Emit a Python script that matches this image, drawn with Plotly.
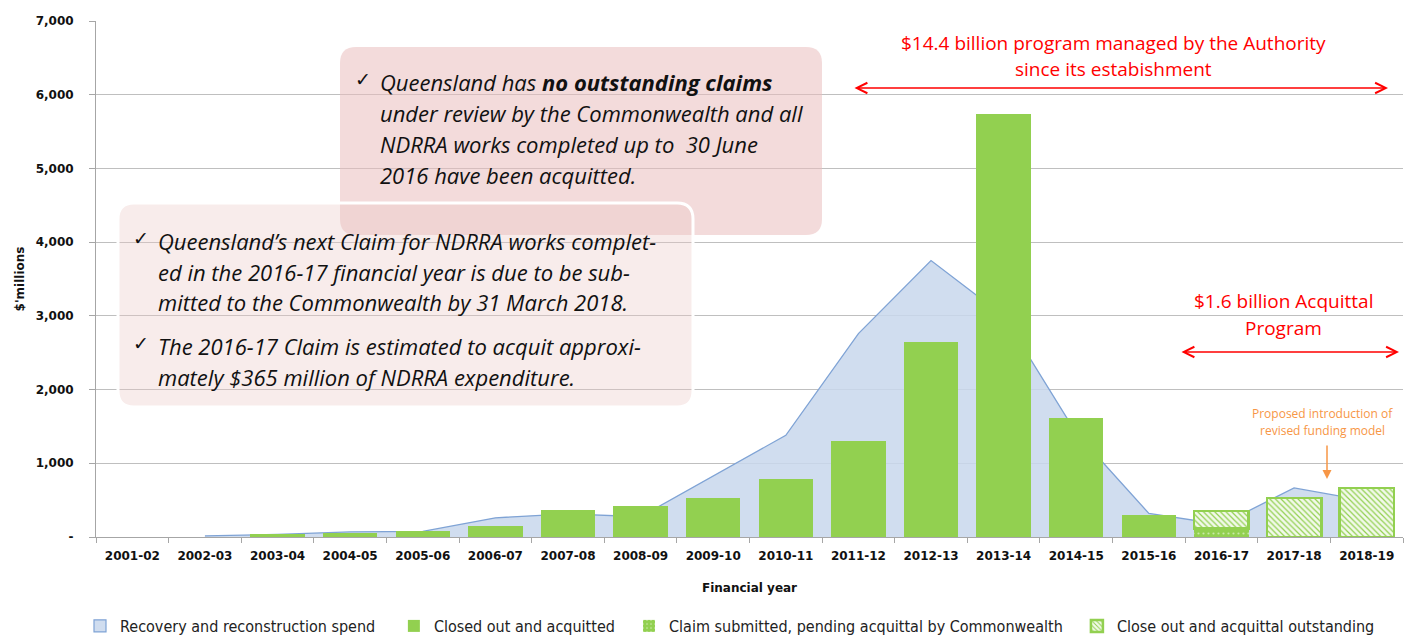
import plotly.graph_objects as go

# ---------------- data ----------------
years = ["2001-02", "2002-03", "2003-04", "2004-05", "2005-06", "2006-07", "2007-08",
         "2008-09", "2009-10", "2010-11", "2011-12", "2012-13", "2013-14", "2014-15",
         "2015-16", "2016-17", "2017-18", "2018-19"]
recovery_spend = [None, 15, 35, 70, 75, 260, 315, 275, 825, 1380, 2760, 3750, 3000,
                  1410, 320, 170, 665, 490]
closed_acquitted = [None, None, 35, 60, 85, 150, 360, 420, 535, 785, 1300, 2650, 5740,
                    1615, 300, None, None, None]
claim_pending = [None] * 15 + [113, None, None]
outstanding = [None] * 15 + [237, 530, 665]

y_tickvals = [0, 1000, 2000, 3000, 4000, 5000, 6000, 7000]
y_ticktext = ["-", "1,000", "2,000", "3,000", "4,000", "5,000", "6,000", "7,000"]

series_names = ["Recovery and reconstruction spend", "Closed out and acquitted",
                "Claim submitted, pending acquittal by Commonwealth",
                "Close out and acquittal outstanding"]

box1_lines = ["Queensland has <b>no outstanding claims</b>",
              "under review by the Commonwealth and all",
              "NDRRA works completed up to  30 June",
              "2016 have been acquitted."]
box2_lines = ["Queensland\u2019s next Claim for NDRRA works complet-",
              "ed in the 2016-17 financial year is due to be sub-",
              "mitted to the Commonwealth by 31 March 2018.",
              "The 2016-17 Claim is estimated to acquit approxi-",
              "mately $365 million of NDRRA expenditure."]

# ---------------- geometry helpers (pixel -> paper) ----------------
W, H = 1410, 637
ML, MR, MT, MB = 96, 7, 21, 100
PW, PH = W - ML - MR, H - MT - MB


def px(x):
    return (x - ML) / PW


def py(y):
    return (H - MB - y) / PH


def rounded_rect(x0, y0, x1, y1, r):
    def P(x, y):
        return f"{px(x):.5f},{py(y):.5f}"
    return (f"M {P(x0 + r, y0)} L {P(x1 - r, y0)} Q {P(x1, y0)} {P(x1, y0 + r)} "
            f"L {P(x1, y1 - r)} Q {P(x1, y1)} {P(x1 - r, y1)} "
            f"L {P(x0 + r, y1)} Q {P(x0, y1)} {P(x0, y1 - r)} "
            f"L {P(x0, y0 + r)} Q {P(x0, y0)} {P(x0 + r, y0)} Z")


GREEN = "#92D050"
AREA_FILL = "rgba(200,215,236,0.85)"
AREA_LINE = "#7FA3D5"
nb = "\u00a0"

fig = go.Figure()

# area (base axes, drawn beneath the bars)
fig.add_trace(go.Scatter(
    x=years, y=recovery_spend, name=series_names[0], showlegend=False,
    mode="lines", fill="tozeroy", fillcolor=AREA_FILL,
    line=dict(color=AREA_LINE, width=1.3), connectgaps=False,
    xaxis="x", yaxis="y"))

# legend-only square swatch for the area series
fig.add_trace(go.Bar(
    x=[years[0]], y=[None], name=series_names[0] + nb * 3,
    marker=dict(color=AREA_FILL, line=dict(color=AREA_LINE, width=1.2)),
    xaxis="x2", yaxis="y2"))

fig.add_trace(go.Bar(
    x=years, y=closed_acquitted, name=series_names[1] + nb * 2,
    marker=dict(color=GREEN, line=dict(width=0)), xaxis="x2", yaxis="y2"))

fig.add_trace(go.Bar(
    x=years, y=claim_pending, name=series_names[2] + nb * 2,
    marker=dict(color=GREEN, line=dict(width=0),
                pattern=dict(shape=".", fillmode="overlay", fgcolor="white",
                             size=5, solidity=0.15)),
    xaxis="x2", yaxis="y2"))

fig.add_trace(go.Bar(
    x=years, y=outstanding, name=series_names[3],
    marker=dict(color="white", line=dict(color=GREEN, width=2.5),
                pattern=dict(shape="\\", fillmode="replace", fgcolor=GREEN,
                             bgcolor="#F2F9EA", size=4, solidity=0.3)),
    xaxis="x2", yaxis="y2"))

shapes = [
    dict(type="path", xref="paper", yref="paper", layer="above",
         path=rounded_rect(340, 47, 822, 235, 16),
         fillcolor="rgba(233,190,189,0.55)", line=dict(width=0)),
    dict(type="path", xref="paper", yref="paper", layer="above",
         path=rounded_rect(118, 203, 693, 407, 16),
         fillcolor="rgba(236,200,199,0.35)", line=dict(color="white", width=3)),
]

ann = []
TXT_FONT = dict(family="Open Sans, Lato, sans-serif", size=22, color="#111111")
CHK_FONT = dict(family="DejaVu Sans, sans-serif", size=19, color="#111111")

for i, t in enumerate(box1_lines):
    ann.append(dict(xref="paper", yref="paper", x=px(378), y=py(82 + 31 * i),
                    xanchor="left", yanchor="middle", showarrow=False,
                    text=f"<i>{t}</i>", font=TXT_FONT))
ann.append(dict(xref="paper", yref="paper", x=px(363), y=py(79), xanchor="center",
                yanchor="middle", showarrow=False, text="\u2713", font=CHK_FONT))

b2_y = [241, 272, 302, 346, 377]
for t, yy in zip(box2_lines, b2_y):
    ann.append(dict(xref="paper", yref="paper", x=px(156), y=py(yy),
                    xanchor="left", yanchor="middle", showarrow=False,
                    text=f"<i>{t}</i>", font=TXT_FONT))
for yy in (238, 343):
    ann.append(dict(xref="paper", yref="paper", x=px(141), y=py(yy), xanchor="center",
                    yanchor="middle", showarrow=False, text="\u2713", font=CHK_FONT))

RED_FONT = dict(family="Open Sans, Lato, sans-serif", size=19, color="#FF0000")
ORANGE_FONT = dict(family="Open Sans, Lato, sans-serif", size=12, color="#F79646")
ann += [
    dict(xref="paper", yref="paper", x=px(1113), y=py(43), showarrow=False,
         text="$14.4 billion program managed by the Authority", font=RED_FONT,
         xanchor="center", yanchor="middle"),
    dict(xref="paper", yref="paper", x=px(1113), y=py(69), showarrow=False,
         text="since its estabishment", font=RED_FONT, xanchor="center", yanchor="middle"),
    dict(xref="paper", yref="paper", x=px(1388), y=py(88), ax=853 - 1388, ay=0,
         axref="pixel", ayref="pixel", text="", showarrow=True, arrowside="end+start",
         arrowhead=5, arrowsize=1.3, arrowwidth=1.6, arrowcolor="#FF0000"),
    dict(xref="paper", yref="paper", x=px(1283), y=py(301), showarrow=False,
         text="$1.6 billion Acquittal", font=RED_FONT, xanchor="center", yanchor="middle"),
    dict(xref="paper", yref="paper", x=px(1283), y=py(328), showarrow=False,
         text="Program", font=RED_FONT, xanchor="center", yanchor="middle"),
    dict(xref="paper", yref="paper", x=px(1399), y=py(352), ax=1180 - 1399, ay=0,
         axref="pixel", ayref="pixel", text="", showarrow=True, arrowside="end+start",
         arrowhead=5, arrowsize=1.3, arrowwidth=1.6, arrowcolor="#FF0000"),
    dict(xref="paper", yref="paper", x=px(1322), y=py(413), showarrow=False,
         text="Proposed introduction of", xanchor="center", yanchor="middle",
         font=ORANGE_FONT),
    dict(xref="paper", yref="paper", x=px(1322), y=py(430), showarrow=False,
         text="revised funding model", xanchor="center", yanchor="middle",
         font=ORANGE_FONT),
    dict(xref="paper", yref="paper", x=px(1327), y=py(479), ax=0, ay=-35,
         axref="pixel", ayref="pixel", text="", showarrow=True,
         arrowhead=2, arrowsize=1.2, arrowwidth=1.5, arrowcolor="#F79646"),
]

TICK_FONT = dict(family="Verdana, DejaVu Sans, sans-serif", size=12, color="#111111",
                 weight="bold")
TITLE_FONT = dict(family="Verdana, DejaVu Sans, sans-serif", size=12, color="#111111",
                  weight="bold")

fig.update_layout(
    width=W, height=H, margin=dict(l=ML, r=MR, t=MT, b=MB, autoexpand=False),
    paper_bgcolor="white", plot_bgcolor="white",
    barmode="stack", bargap=0.25,
    shapes=shapes, annotations=ann,
    font=dict(family="DejaVu Sans, sans-serif", color="#111111"),
    legend=dict(orientation="h", x=px(80), y=py(609), xanchor="left", yanchor="top",
                font=dict(family="Liberation Sans Narrow, DejaVu Sans Condensed, sans-serif",
                          size=16, color="#222222"),
                itemwidth=30, traceorder="normal"),
    xaxis=dict(type="category", categoryorder="array", categoryarray=years,
               range=[-0.5, 17.5], showgrid=False, automargin=False,
               showline=True, linecolor="#A6A6A6", linewidth=1,
               ticks="outside", tickson="boundaries", ticklen=5, tickcolor="#A6A6A6",
               tickfont=TICK_FONT, ticklabelstandoff=8,
               title=dict(text="Financial year", standoff=21, font=TITLE_FONT)),
    yaxis=dict(range=[0, 7000], tickvals=y_tickvals, ticktext=y_ticktext,
               automargin=False,
               showgrid=True, gridcolor="#BFBFBF", gridwidth=1, zeroline=False,
               showline=True, linecolor="#A6A6A6", linewidth=1,
               ticks="outside", ticklen=6, tickcolor="#A6A6A6",
               tickfont=TICK_FONT, ticklabelstandoff=13,
               title=dict(text="$'millions", standoff=8, font=TITLE_FONT)),
    xaxis2=dict(type="category", categoryorder="array", categoryarray=years,
                range=[-0.5, 17.5], overlaying="x", visible=False, automargin=False),
    yaxis2=dict(range=[0, 7000], overlaying="y", visible=False, automargin=False),
)

fig.write_html("out.html", config={"displayModeBar": False},
               post_script="document.body.style.margin='0';document.body.style.overflow='hidden';")
